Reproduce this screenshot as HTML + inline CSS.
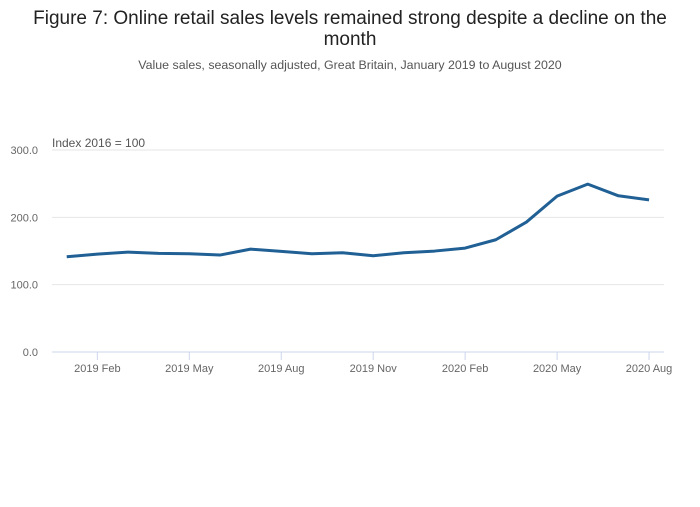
<!DOCTYPE html>
<html><head><meta charset="utf-8"><style>
body{margin:0;background:#fff;font-family:"Liberation Sans",sans-serif;}
svg text{font-family:"Liberation Sans",sans-serif;}
</style></head><body>
<svg width="700" height="502">
<text x="350" y="24" text-anchor="middle" font-size="19" fill="#222">Figure 7: Online retail sales levels remained strong despite a decline on the</text>
<text x="350" y="45" text-anchor="middle" font-size="19" fill="#222">month</text>
<text x="350" y="69" text-anchor="middle" font-size="12.4" fill="#555">Value sales, seasonally adjusted, Great Britain, January 2019 to August 2020</text>
<text x="52" y="147" font-size="12" fill="#555">Index 2016 = 100</text>
<g id="grid"></g><g id="xax"></g>
<path id="line" fill="none" stroke="#206095" stroke-width="3" stroke-linejoin="round"/>
</svg>
<script>
const months=["2019 Jan","2019 Feb","2019 Mar","2019 Apr","2019 May","2019 Jun","2019 Jul","2019 Aug","2019 Sep","2019 Oct","2019 Nov","2019 Dec","2020 Jan","2020 Feb","2020 Mar","2020 Apr","2020 May","2020 Jun","2020 Jul","2020 Aug"];
const values=[141.4,145.4,148.4,146.4,146,144,152.8,149.4,146,147.4,143,147.4,149.9,154.3,166.7,193,231.5,249.3,232,226];
const yTicks=[0,100,200,300];
const yTickLabels=["0.0","100.0","200.0","300.0"];
const xTickIdx=[1,4,7,10,13,16,19];
const NS="http://www.w3.org/2000/svg";
const L=52,R=664,y0=352,y300=150,x0=66.7,dx=30.65;
const y=v=>y0-(v/300)*(y0-y300);
const x=i=>x0+i*dx;
function mk(t,a,p){const e=document.createElementNS(NS,t);for(const k in a)e.setAttribute(k,a[k]);p.appendChild(e);return e;}
const g=document.getElementById('grid');
yTicks.forEach((v,i)=>{
 const l=mk('line',{x1:L,x2:R,y1:y(v),y2:y(v),stroke:v===0?'#ccd6eb':'#e6e6e6'},g);
 
 
 const t=mk('text',{x:38,y:y(v)+4,'text-anchor':'end','font-size':'11',fill:'#666'},g);
 t.textContent=yTickLabels[i];
 
 
});
const xa=document.getElementById('xax');
xTickIdx.forEach(i=>{
 const l=mk('line',{x1:x(i),x2:x(i),y1:y0,y2:y0+8,stroke:'#ccd6eb'},xa);
 
 
 const t=mk('text',{x:x(i),y:372,'text-anchor':'middle','font-size':'11',fill:'#666'},xa);
 t.textContent=months[i];
 
 
});
document.getElementById('line').setAttribute('d',values.map((v,i)=>(i?'L':'M')+x(i)+','+y(v)).join(''));
</script>
</body></html>
